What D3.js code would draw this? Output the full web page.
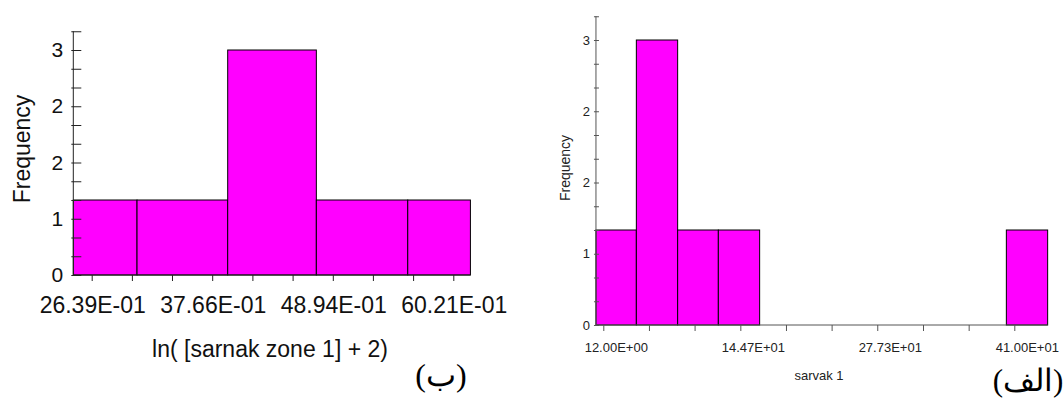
<!DOCTYPE html>
<html>
<head>
<meta charset="utf-8">
<script src="https://cdn.jsdelivr.net/npm/d3@7"></script>
<style>
  body { margin: 0; background: #fff; }
  svg { display: block; }
  text { font-family: "Liberation Sans", Arial, sans-serif; }
  .arabic { font-family: "Liberation Serif", "DejaVu Serif", serif; }
</style>
</head>
<body>
<div id="container"></div>
<script>
// ---- data: left chart (ب)
var leftBinEdges = [2.467, 3.063, 3.911, 4.740, 5.595, 6.181];
var leftCounts = [1, 1, 3, 1, 1];
var leftXTicks = [2.639, 3.015, 3.390, 3.766, 4.142, 4.518, 4.894, 5.269, 5.645, 6.021];
var leftXLabels = ["26.39E-01", "37.66E-01", "48.94E-01", "60.21E-01"];
var leftXLabelValues = [2.639, 3.766, 4.894, 6.021];

// ---- data: right chart (الف)
var rightBinEdges = [4.9, 44.0, 84.0, 123.4, 163.4, 203.2, 243.0, 282.8, 322.6, 362.4, 402.3, 442.3];
var rightCounts = [1, 3, 1, 1, 0, 0, 0, 0, 0, 0, 1];
var rightXTicks = [12, 56.2, 100.4, 144.7, 188.9, 233.1, 277.3, 321.6, 365.8, 410];
var rightXLabels = ["12.00E+00", "14.47E+01", "27.73E+01", "41.00E+01"];
var rightXLabelValues = [12, 144.7, 277.3, 410];

// shared y ticks (every 0.25, labelled every 0.75)
var yTicks = d3.range(0, 3.26, 0.25);
var yMajor = [0, 0.75, 1.5, 2.25, 3];

var svg = d3.select("#container").append("svg")
    .attr("width", 1064)
    .attr("height", 398);

function histogram(cfg) {
  var g = svg.append("g");

  var x = d3.scaleLinear()
      .domain([cfg.labelValues[0], cfg.labelValues[cfg.labelValues.length - 1]])
      .range(cfg.xRange);
  var y = d3.scaleLinear().domain([0, 3]).range(cfg.yRange);

  var bins = cfg.counts.map(function(c, i) {
    return {x0: cfg.edges[i], x1: cfg.edges[i + 1], n: c};
  }).filter(function(d) { return d.n > 0; });

  g.selectAll("rect.bar")
    .data(bins)
    .enter().append("rect")
    .attr("class", "bar")
    .attr("x", function(d) { return x(d.x0); })
    .attr("width", function(d) { return x(d.x1) - x(d.x0); })
    .attr("y", function(d) { return y(d.n); })
    .attr("height", function(d) { return y(0) - y(d.n); })
    .attr("fill", "#ff00ff")
    .attr("stroke", "#000")
    .attr("stroke-width", 1);

  // y axis
  var yAxis = g.append("g")
      .attr("transform", "translate(" + x(cfg.edges[0]) + ",0)")
      .call(d3.axisLeft(y).tickValues(yTicks).tickSize(0).tickPadding(cfg.yPad)
        .tickFormat(function(d) {
          return yMajor.some(function(m) { return Math.abs(m - d) < 1e-6; }) ? Math.round(d) : "";
        }));
  yAxis.select(".domain").attr("d", "M0," + y(0) + "V" + y(3.25)).attr("stroke", cfg.axisColor);
  yAxis.selectAll(".tick line").attr("x1", -2).attr("x2", cfg.tickIn).attr("stroke", cfg.axisColor);
  yAxis.selectAll(".tick text")
      .attr("font-size", cfg.yFont).attr("fill", cfg.textColor)
      .attr("font-family", "Liberation Sans, Arial, sans-serif");

  // x axis
  var xAxis = g.append("g")
      .attr("transform", "translate(0," + y(0) + ")")
      .call(d3.axisBottom(x).tickValues(cfg.ticks).tickSize(cfg.xTick).tickFormat(""));
  xAxis.select(".domain")
      .attr("d", "M" + x(cfg.edges[0]) + ",0H" + x(cfg.edges[cfg.edges.length - 1]))
      .attr("stroke", cfg.axisColor);
  xAxis.selectAll(".tick line").attr("stroke", cfg.axisColor);

  g.selectAll("text.xlab")
    .data(cfg.labels)
    .enter().append("text")
    .attr("class", "xlab")
    .attr("x", function(d, i) { return x(cfg.labelValues[i]) + cfg.labelDx; })
    .attr("y", y(0) + cfg.labelDy)
    .attr("text-anchor", "middle")
    .attr("font-size", cfg.xFont)
    .attr("fill", cfg.textColor)
    .text(function(d) { return d; });

  // titles
  g.append("text")
    .attr("x", cfg.xTitle[0]).attr("y", cfg.xTitle[1])
    .attr("text-anchor", "middle")
    .attr("font-size", cfg.titleFont)
    .attr("fill", cfg.textColor)
    .text(cfg.xTitleText);

  g.append("text")
    .attr("transform", "translate(" + cfg.yTitle[0] + "," + cfg.yTitle[1] + ") rotate(-90)")
    .attr("text-anchor", "middle")
    .attr("font-size", cfg.yTitleFont)
    .attr("fill", cfg.textColor)
    .text("Frequency");

  g.append("text")
    .attr("class", "arabic")
    .attr("x", cfg.tag[0]).attr("y", cfg.tag[1])
    .attr("text-anchor", "middle")
    .attr("font-size", cfg.tagFont)
    .attr("fill", "#000")
    .text(cfg.tagText);
}

histogram({
  edges: leftBinEdges, counts: leftCounts, ticks: leftXTicks,
  labels: leftXLabels, labelValues: leftXLabelValues,
  xRange: [91.7, 453.3], yRange: [275, 50],
  axisColor: "#222", textColor: "#111", tickIn: 8, xTick: 6, yPad: 10,
  yFont: 21, xFont: 23, labelDx: 1, labelDy: 38,
  titleFont: 23, xTitle: [270, 357], xTitleText: "ln( [sarnak zone 1] + 2)",
  yTitleFont: 23, yTitle: [30, 149],
  tag: [441, 386], tagFont: 32, tagText: "(ب)"
});

histogram({
  edges: rightBinEdges, counts: rightCounts, ticks: rightXTicks,
  labels: rightXLabels, labelValues: rightXLabelValues,
  xRange: [603.3, 1014.3], yRange: [325, 40],
  axisColor: "#555", textColor: "#222", tickIn: 3, xTick: 6, yPad: 6,
  yFont: 13, xFont: 13, labelDx: 13, labelDy: 27,
  titleFont: 13, xTitle: [819, 380], xTitleText: "sarvak 1",
  yTitleFont: 14, yTitle: [570, 168],
  tag: [1028, 391], tagFont: 31, tagText: "(الف)"
});
</script>
</body>
</html>
